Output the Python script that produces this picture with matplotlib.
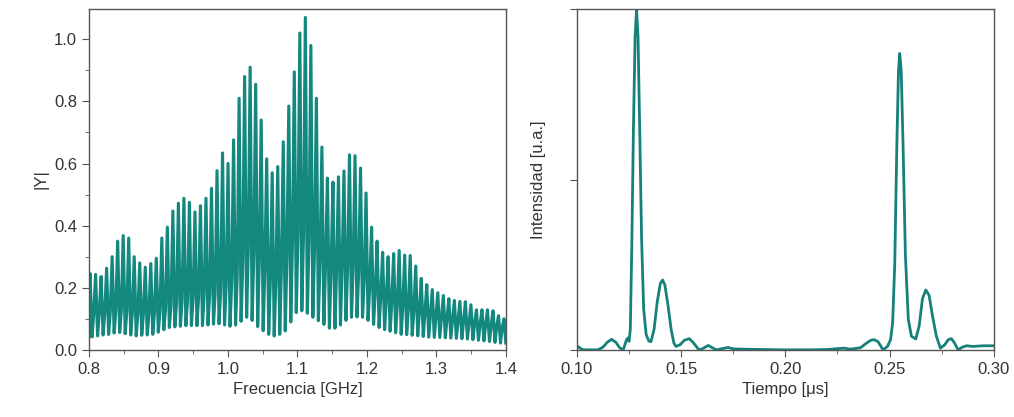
import numpy as np
import matplotlib
matplotlib.use("Agg")
import matplotlib.pyplot as plt
from matplotlib.ticker import MultipleLocator, FormatStrFormatter

plt.rcParams['font.family'] = ['Liberation Sans', 'DejaVu Sans']

# --- left panel: |Y| vs frequency, one entry per oscillation period ---
f_first, f_last = 0.8015, 1.3975   # first and last spike [GHz]
peak_vals = [0.246, 0.243, 0.236, 0.263, 0.30, 0.35, 0.368, 0.36, 0.30, 0.28,
             0.266, 0.278, 0.295, 0.36, 0.395, 0.447, 0.472, 0.488, 0.475, 0.444,
             0.464, 0.488, 0.52, 0.577, 0.634, 0.60, 0.676, 0.81, 0.88, 0.91,
             0.855, 0.74, 0.615, 0.57, 0.59, 0.67, 0.785, 0.895, 1.02, 1.07,
             0.98, 0.81, 0.653, 0.553, 0.54, 0.557, 0.576, 0.628, 0.625, 0.585,
             0.505, 0.395, 0.35, 0.314, 0.30, 0.31, 0.32, 0.305, 0.304, 0.27,
             0.23, 0.21, 0.194, 0.184, 0.175, 0.165, 0.159, 0.156, 0.155, 0.145,
             0.129, 0.129, 0.129, 0.126, 0.11, 0.10]
trough_vals = [0.042, 0.045, 0.048, 0.05, 0.054, 0.056, 0.052, 0.048, 0.045, 0.047,
               0.048, 0.05, 0.057, 0.065, 0.072, 0.074, 0.076, 0.078, 0.078, 0.078,
               0.078, 0.08, 0.083, 0.084, 0.08, 0.076, 0.08, 0.092, 0.105, 0.095,
               0.075, 0.062, 0.05, 0.045, 0.05, 0.061, 0.09, 0.12, 0.126, 0.118,
               0.105, 0.094, 0.082, 0.07, 0.07, 0.08, 0.095, 0.105, 0.106, 0.105,
               0.095, 0.082, 0.072, 0.065, 0.06, 0.055, 0.05, 0.049, 0.047, 0.045,
               0.043, 0.041, 0.04, 0.04, 0.039, 0.038, 0.037, 0.036, 0.035, 0.033,
               0.031, 0.029, 0.027, 0.024, 0.022]
bump_vals = [0.116, 0.118, 0.12, 0.122, 0.125, 0.126, 0.124, 0.12, 0.118, 0.116,
             0.116, 0.12, 0.125, 0.13, 0.14, 0.148, 0.155, 0.16, 0.165, 0.17,
             0.175, 0.178, 0.18, 0.19, 0.21, 0.225, 0.24, 0.28, 0.32, 0.31,
             0.29, 0.26, 0.225, 0.22, 0.26, 0.30, 0.34, 0.37, 0.365, 0.345,
             0.32, 0.29, 0.275, 0.26, 0.256, 0.26, 0.265, 0.266, 0.25, 0.225,
             0.20, 0.185, 0.17, 0.16, 0.152, 0.145, 0.14, 0.133, 0.126, 0.12,
             0.116, 0.112, 0.108, 0.104, 0.10, 0.096, 0.093, 0.09, 0.088, 0.085,
             0.082, 0.08, 0.077, 0.075, 0.072]

# --- right panel: intensity vs time ---
t_us = [0.100, 0.1015, 0.103, 0.106, 0.110, 0.1125, 0.1145, 0.1166, 0.1187, 0.1205,
        0.1222, 0.1238, 0.1245, 0.1250, 0.1256, 0.1263, 0.1271, 0.1279, 0.1286, 0.1293,
        0.1301, 0.1310, 0.1320, 0.1332, 0.1345, 0.1355, 0.1370, 0.1385, 0.1400, 0.1411,
        0.1422, 0.1437, 0.1452, 0.1465, 0.1475, 0.1495, 0.1515, 0.1539, 0.1560, 0.1580,
        0.1591, 0.1610, 0.1630, 0.1650, 0.1670, 0.1700, 0.1725, 0.1750, 0.1800, 0.1900,
        0.2000, 0.2100, 0.2200, 0.2260, 0.2285, 0.2310, 0.2360, 0.2390, 0.2410, 0.2426,
        0.2445, 0.2469, 0.2490, 0.2505, 0.2515, 0.2525, 0.2535, 0.2543, 0.2549, 0.2556,
        0.2565, 0.2576, 0.2590, 0.2605, 0.2626, 0.2642, 0.2658, 0.2674, 0.2690, 0.2706,
        0.2725, 0.2744, 0.2765, 0.2782, 0.2797, 0.2812, 0.2829, 0.2850, 0.2870, 0.2900,
        0.2950, 0.3000]
intensity = [0.012, 0.005, 0.0, 0.0, 0.0, 0.008, 0.022, 0.031, 0.022, 0.006,
             0.0, 0.03, 0.035, 0.025, 0.06, 0.30, 0.65, 0.92, 1.0, 0.92,
             0.65, 0.33, 0.12, 0.045, 0.026, 0.024, 0.06, 0.14, 0.195, 0.205,
             0.19, 0.13, 0.06, 0.02, 0.01, 0.015, 0.028, 0.033, 0.02, 0.004,
             0.0, 0.006, 0.013, 0.006, 0.0, 0.004, 0.007, 0.003, 0.002, 0.001,
             0.0, 0.0, 0.001, 0.004, 0.005, 0.002, 0.006, 0.02, 0.028, 0.03,
             0.024, 0.0, 0.01, 0.03, 0.08, 0.25, 0.60, 0.82, 0.87, 0.82,
             0.60, 0.28, 0.09, 0.04, 0.032, 0.07, 0.15, 0.176, 0.16, 0.10,
             0.04, 0.005, 0.015, 0.03, 0.033, 0.02, 0.0, 0.008, 0.012, 0.01,
             0.012, 0.012]

# build the oscillating trace: peak -> trough -> shoulder -> next peak
peak_f = np.linspace(f_first, f_last, len(peak_vals))
period = peak_f[1] - peak_f[0]
freq = [0.8]
absY = [trough_vals[0]]
for k, pk in enumerate(peak_vals):
    freq.append(peak_f[k])
    absY.append(pk)
    if k < len(trough_vals):
        freq += [peak_f[k] + 0.36 * period, peak_f[k] + 0.66 * period]
        absY += [trough_vals[k], bump_vals[k]]
freq.append(1.4)
absY.append(trough_vals[-1])

color = '#13887f'

fig = plt.figure(figsize=(10.14, 4.17), dpi=100)
ax1 = fig.add_axes([0.0878, 0.161, 0.411, 0.817])
ax2 = fig.add_axes([0.569, 0.161, 0.411, 0.817])

ax1.plot(freq, absY, color=color, lw=2.25, solid_joinstyle='round')
ax1.set_xlim(0.8, 1.4)
ax1.set_ylim(0, 1.097)
ax1.xaxis.set_major_locator(MultipleLocator(0.1))
ax1.xaxis.set_minor_locator(MultipleLocator(0.05))
ax1.yaxis.set_major_locator(MultipleLocator(0.2))
ax1.yaxis.set_minor_locator(MultipleLocator(0.1))
ax1.xaxis.set_major_formatter(FormatStrFormatter('%.1f'))
ax1.yaxis.set_major_formatter(FormatStrFormatter('%.1f'))
ax1.set_xlabel('Frecuencia [GHz]', fontsize=12, color='#333333')
ax1.set_ylabel('|Y|', fontsize=12, color='#333333')

ax2.plot(t_us, intensity, color='#16807b', lw=2.0, solid_joinstyle='round')
ax2.set_xlim(0.10, 0.30)
ax2.set_ylim(0, 1.0)
ax2.xaxis.set_major_locator(MultipleLocator(0.05))
ax2.xaxis.set_minor_locator(MultipleLocator(0.025))
ax2.xaxis.set_major_formatter(FormatStrFormatter('%.2f'))
ax2.set_yticks([0, 0.5, 1.0])
ax2.set_yticklabels([])
ax2.set_xlabel('Tiempo [μs]', fontsize=12, color='#333333')
ax2.set_ylabel('Intensidad [u.a.]', fontsize=12, color='#333333', labelpad=14)

for ax in (ax1, ax2):
    for sp in ax.spines.values():
        sp.set_color('#555555')
        sp.set_linewidth(1.0)
    ax.tick_params(which='both', direction='out', colors='#555555',
                   labelcolor='#333333', labelsize=12, top=False, right=False)
    ax.tick_params(which='major', length=5)
    ax.tick_params(which='minor', length=3)

fig.savefig('out.png', dpi=100)
